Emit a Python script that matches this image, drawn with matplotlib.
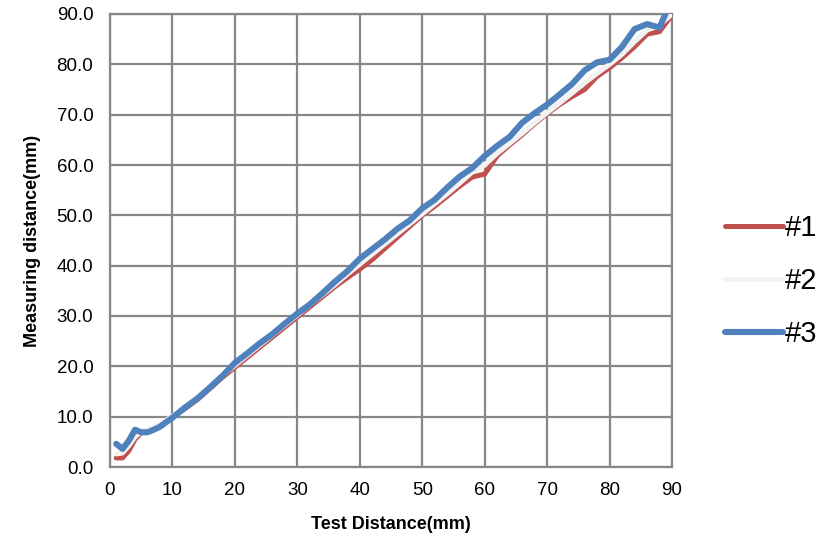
import matplotlib
matplotlib.use("Agg")
import matplotlib.pyplot as plt

plt.rcParams['font.family'] = ['Liberation Sans', 'DejaVu Sans']

# test distance (mm)
x_vals = [1, 2, 3, 4, 5, 6, 7, 8, 9, 10,
          12, 14, 16, 18, 20, 22, 24, 26, 28, 30,
          32, 34, 36, 38, 40, 42, 44, 46, 48, 50,
          52, 54, 56, 58, 60, 62, 64, 66, 68, 70,
          72, 74, 76, 78, 80, 82, 84, 86, 88, 90]

# measured distance (mm) for each sensor
s1 = [1.8, 1.8, 3.2, 5.5, 6.8, 7.2, 7.6, 8.2, 9.0, 9.8,
      11.6, 13.4, 15.6, 17.8, 19.8, 21.8, 23.8, 25.8, 27.8, 29.8,
      31.8, 33.8, 35.8, 37.6, 39.3, 41.2, 43.4, 45.6, 47.8, 50.0,
      51.8, 53.8, 55.8, 57.6, 58.2, 61.8, 64.0, 66.0, 68.2, 70.2,
      72.0, 73.6, 75.0, 77.6, 79.3, 81.3, 83.5, 86.0, 86.5, 89.8]
s2 = [2.6, 2.8, 4.2, 6.0, 7.0, 7.4, 7.9, 8.5, 9.3, 10.1,
      12.0, 14.0, 16.0, 18.1, 20.2, 22.2, 24.2, 26.2, 28.2, 30.2,
      32.2, 34.2, 36.2, 38.3, 40.3, 42.3, 44.3, 46.3, 48.3, 50.3,
      52.3, 54.3, 56.4, 58.6, 60.0, 62.3, 64.3, 66.3, 68.4, 70.4,
      72.3, 74.3, 76.3, 78.2, 80.0, 82.0, 84.5, 86.8, 87.8, 90.0]
s3 = [4.6, 3.6, 5.2, 7.4, 6.9, 6.9, 7.4, 8.0, 8.9, 9.8,
      11.8, 13.6, 15.8, 18.1, 20.7, 22.6, 24.6, 26.4, 28.5, 30.5,
      32.3, 34.5, 36.8, 38.9, 41.4, 43.3, 45.2, 47.3, 49.0, 51.4,
      53.1, 55.5, 57.7, 59.4, 61.8, 63.8, 65.6, 68.4, 70.3, 72.0,
      74.0, 76.1, 78.8, 80.4, 80.9, 83.5, 87.0, 88.0, 87.3, 93.0]

labels = ['#1', '#2', '#3']
colors = ['#C0504D', '#F2F2F2', '#4F81BD']
widths = [3.6, 3.6, 4.4]

fig = plt.figure(figsize=(8.29, 5.42), dpi=100)
ax = fig.add_axes([110 / 829, 1 - 467 / 542, 562 / 829, 453 / 542])

for ys, lab, c, lw in zip([s1, s2, s3], labels, colors, widths):
    ax.plot(x_vals, ys, color=c, linewidth=lw, label=lab,
            solid_joinstyle='round', solid_capstyle='round', zorder=3)

ax.set_xlim(0, 90)
ax.set_ylim(0, 90)
ax.set_xticks(range(0, 91, 10))
ax.set_yticks(range(0, 91, 10))
ax.set_yticklabels([f'{v:.1f}' for v in range(0, 91, 10)])
ax.tick_params(length=0, labelsize=13.5)
ax.tick_params(axis='x', pad=11)
ax.tick_params(axis='y', pad=12)
ax.grid(True, color='#878787', linewidth=1.6)
for sp in ax.spines.values():
    sp.set_color('#878787')
    sp.set_linewidth(1.6)

ax.set_xlabel('Test Distance(mm)', fontsize=13, fontweight='bold', labelpad=12)
ax.set_ylabel('Measuring distance(mm)', fontsize=13, fontweight='bold', labelpad=11)

ax.legend(loc='center left', bbox_to_anchor=(1.047, 0.41), frameon=False,
          fontsize=21, handlelength=2.0, handletextpad=0.05, labelspacing=0.85)

plt.savefig('out.png', dpi=100)
